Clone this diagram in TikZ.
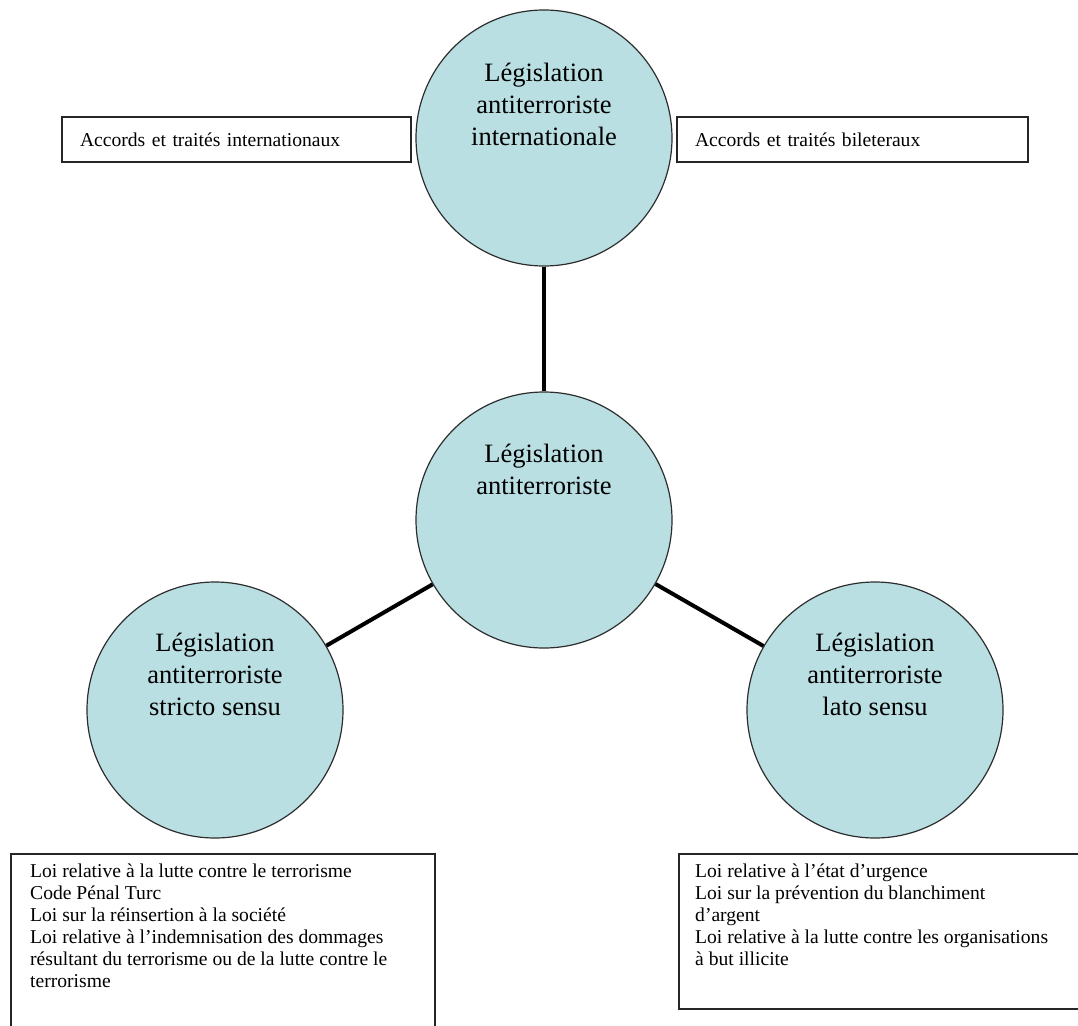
\documentclass[tikz,border=0pt]{standalone}
\usepackage{fontspec}
\setmainfont{Liberation Serif}
\definecolor{circfill}{RGB}{185,223,227}
\definecolor{circline}{RGB}{45,45,45}
\begin{document}
\begin{tikzpicture}[x=1pt,y=-1pt,
  legis/.style={circle,draw=circline,line width=1.2pt,fill=circfill,
    minimum size=256pt,inner sep=0pt},
  legtext/.style={anchor=north,align=center,inner sep=0pt,
    font=\fontsize{26.5}{32}\selectfont},
  link/.style={line width=4pt,black},
  listbox/.style={draw=black!85,line width=1.5pt,rectangle,inner sep=0pt},
  listtext/.style={anchor=north west,align=left,inner sep=0pt,
    font=\fontsize{19.6}{22}\selectfont},
  refbox/.style={draw=black!85,line width=1.5pt,rectangle,align=left,
    inner xsep=18pt,inner ysep=0pt,minimum height=45pt,
    font=\fontsize{19.6}{22}\selectfont}]
\useasboundingbox (0,0) rectangle (1078,1025);
\clip (0,0) rectangle (1078,1025);

% the four circles
\node[legis] (intl) at (544,138) {};
\node[legis] (main) at (544,520) {};
\node[legis] (strict) at (215,710) {};
\node[legis] (lato) at (875,710) {};

% connectors
\draw[link] (intl) -- (main);
\draw[link] (main) -- (strict);
\draw[link] (main) -- (lato);

% circle captions
\node[legtext] (intlT) at ([yshift=-53pt]intl.north) {Législation\\antiterroriste\\internationale};
\node[legtext] (mainT) at ([yshift=-52pt]main.north) {Législation\\antiterroriste};
\node[legtext] (strictT) at ([yshift=-51pt]strict.north) {Législation\\antiterroriste\\stricto sensu};
\node[legtext] (latoT) at ([yshift=-51pt]lato.north) {Législation\\antiterroriste\\lato sensu};

% treaty boxes
\node[refbox,text width=313pt] (multi) at (236.5,139.5) {Accords et traités internationaux};
\node[refbox,text width=315pt] (bi) at (852.5,139.5) {Accords et traités bileteraux};

% lists of laws
\node[listbox,minimum width=424pt,minimum height=200pt,anchor=north west] (strictBox) at (10,853) {};
\node[listtext] (strictList) at ([xshift=20pt,yshift=-11pt]strictBox.north west)
  {Loi relative à la lutte contre le terrorisme\\
   Code Pénal Turc\\
   Loi sur la réinsertion à la société\\
   Loi relative à l’indemnisation des dommages\\
   résultant du terrorisme ou de la lutte contre le\\
   terrorisme};
\node[listbox,minimum width=420pt,minimum height=155pt,anchor=north west] (latoBox) at (678,853) {};
\node[listtext] (latoList) at ([xshift=17pt,yshift=-11pt]latoBox.north west)
  {Loi relative à l’état d’urgence\\
   Loi sur la prévention du blanchiment\\
   d’argent\\
   Loi relative à la lutte contre les organisations\\
   à but illicite};
\end{tikzpicture}
\end{document}
